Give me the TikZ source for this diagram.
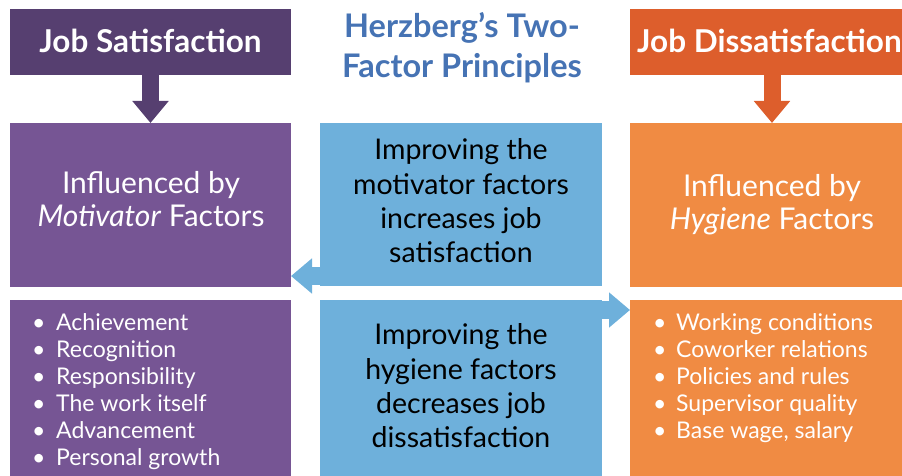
\documentclass[tikz,border=0pt]{standalone}
\usepackage{fontspec}
\setmainfont{Lato}
\usetikzlibrary{arrows.meta,calc}
\definecolor{purpleD}{RGB}{86,63,112}
\definecolor{purpleL}{RGB}{118,85,148}
\definecolor{orangeD}{RGB}{221,94,44}
\definecolor{orangeL}{RGB}{240,139,67}
\definecolor{blueB}{RGB}{110,176,219}
\definecolor{titleB}{RGB}{70,115,180}
\tikzset{
  box/.style={inner sep=0pt, outer sep=0pt, anchor=north west},
  hdr/.style={text=white, inner sep=0pt, font=\fontsize{31.5}{36}\selectfont\bfseries},
  mid/.style={text=white, inner sep=0pt, font=\fontsize{30}{33}\selectfont, align=center},
  ctr/.style={text=black, inner sep=0pt, font=\fontsize{28.5}{34.3}\selectfont, align=center},
  lst/.style={text=white, font=\fontsize{23}{27}\selectfont, align=left, anchor=north west, inner sep=0pt},
  downarr/.style={line width=17pt, -{Triangle[width=35pt,length=22pt]}},
  sidearr/.style={line width=18pt, blueB, -{Triangle[width=34pt,length=21pt]}},
}
\newcommand{\bul}{\makebox[24pt][l]{\textbullet}}
\newcommand{\bulr}{\makebox[23pt][l]{\textbullet}}
\begin{document}
\begin{tikzpicture}[x=1pt,y=-1pt]
\useasboundingbox (0,0) rectangle (902,476);
\clip (0,0) rectangle (902,476);
% boxes
\node[box, fill=purpleD, minimum width=281pt, minimum height=66pt] (js) at (10,9) {};
\node[box, fill=purpleL, minimum width=281pt, minimum height=164pt] (mot) at (10,123) {};
\node[box, fill=purpleL, minimum width=281pt, minimum height=176pt] (motL) at (10,300) {};
\node[box, fill=blueB, minimum width=282pt, minimum height=163pt] (imp1) at (320,123) {};
\node[box, fill=blueB, minimum width=282pt, minimum height=176pt] (imp2) at (320,300) {};
\node[box, fill=orangeD, minimum width=284pt, minimum height=66pt] (jd) at (630,9) {};
\node[box, fill=orangeL, minimum width=284pt, minimum height=164pt] (hyg) at (630,123) {};
\node[box, fill=orangeL, minimum width=284pt, minimum height=176pt] (hygL) at (630,300) {};
% down arrows
\draw[downarr, purpleD] (js.south) -- (mot.north);
\draw[downarr, orangeD] (jd.south) -- (hyg.north);
% side arrows
\coordinate (p1) at ([yshift=10pt]imp1.south west);
\draw[sidearr] (p1) -- (p1 -| mot.east);
\coordinate (p2) at ([yshift=-10pt]imp2.north east);
\draw[sidearr] (p2) -- (p2 -| hygL.west);
% texts
\node[hdr, anchor=base] (jsT) at (150.5,53) {Job Satisfaction};
\node[hdr, anchor=base west] (jdT) at (637,53) {Job Dissatisfaction};
\node[text=titleB, inner sep=0pt, font=\fontsize{32.5}{40}\selectfont\bfseries, align=center] (title) at (462,48) {Herzberg’s Two-\\Factor Principles};
\node[mid] (motT) at (151,199.5) {Influenced by\\\textit{Motivator} Factors};
\node[mid] (hygT) at (772,204.5) {Influenced by\\\textit{Hygiene} Factors};
\node[ctr] (imp1T) at (461,201) {Improving the\\motivator factors\\increases job\\satisfaction};
\node[ctr] (imp2T) at (461,386) {Improving the\\hygiene factors\\decreases job\\dissatisfaction};
\node[lst] (motList) at (32,313) {\bul Achievement\\\bul Recognition\\\bul Responsibility\\\bul The work itself\\\bul Advancement\\\bul Personal growth};
\node[lst] (hygList) at (653,313) {\bulr Working conditions\\\bulr Coworker relations\\\bulr Policies and rules\\\bulr Supervisor quality\\\bulr Base wage, salary};
\end{tikzpicture}
\end{document}
